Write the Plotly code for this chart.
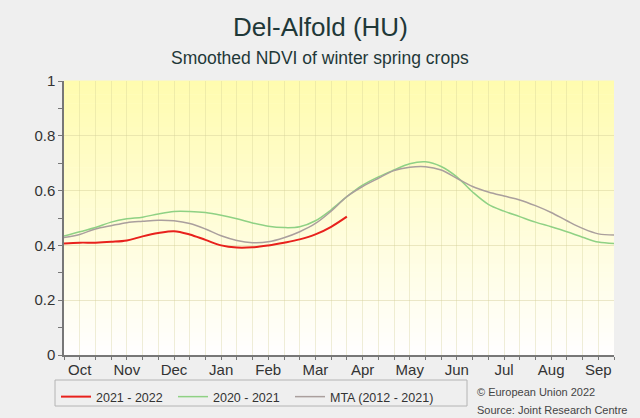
import plotly.graph_objects as go

dekads = list(range(36))
month_labels = ["Oct", "Nov", "Dec", "Jan", "Feb", "Mar", "Apr", "May", "Jun", "Jul", "Aug", "Sep"]
month_pos = [1, 4, 7, 10, 13, 16, 19, 22, 25, 28, 31, 34]
y_ticks = [0, 0.2, 0.4, 0.6, 0.8, 1]
y_ticktext = ["0", "0.2", "0.4", "0.6", "0.8", "1"]

ndvi_2021_2022 = [0.407, 0.41, 0.41, 0.413, 0.418, 0.433, 0.445, 0.452, 0.44, 0.42,
                  0.40, 0.392, 0.393, 0.40, 0.41, 0.422, 0.44, 0.468, 0.505]
ndvi_2020_2021 = [0.434, 0.45, 0.465, 0.485, 0.497, 0.503, 0.515, 0.524, 0.524, 0.52,
                  0.51, 0.497, 0.482, 0.47, 0.465, 0.468, 0.49, 0.53, 0.578, 0.62,
                  0.65, 0.675, 0.698, 0.705, 0.688, 0.65, 0.595, 0.55, 0.525, 0.505,
                  0.485, 0.468, 0.45, 0.43, 0.412, 0.407]
ndvi_mta = [0.429, 0.44, 0.46, 0.472, 0.483, 0.488, 0.492, 0.49, 0.48, 0.46,
            0.435, 0.418, 0.41, 0.413, 0.428, 0.45, 0.48, 0.525, 0.578, 0.615,
            0.645, 0.673, 0.685, 0.687, 0.675, 0.645, 0.615, 0.595, 0.58, 0.566,
            0.545, 0.52, 0.49, 0.462, 0.442, 0.438]

# plot-area geometry (pixels)
L, R, T, B = 64, 614, 81, 355
W, H = 640, 418


def px(xp, yp):
    """pixel position -> paper coordinates"""
    return (xp - L) / (R - L), (B - yp) / (B - T)


fig = go.Figure()
fig.add_trace(go.Scatter(x=dekads[:len(ndvi_2021_2022)], y=ndvi_2021_2022, mode="lines",
                         name="2021 - 2022", legendwidth=72,
                         line=dict(color="#e8211c", width=2, shape="spline")))
fig.add_trace(go.Scatter(x=dekads, y=ndvi_2020_2021, mode="lines",
                         name="2020 - 2021", legendwidth=72,
                         line=dict(color="#8fd184", width=1.5, shape="spline")))
fig.add_trace(go.Scatter(x=dekads, y=ndvi_mta, mode="lines",
                         name="MTA (2012 - 2021)", legendwidth=115,
                         line=dict(color="#aa9f9d", width=1.5, shape="spline")))

# yellow-to-white gradient background of the plot area
shapes = []
n = 60
top = (255, 252, 175)
for k in range(n):
    f = (k + 0.5) / n  # 0 bottom -> 1 top
    r = int(255 + (top[0] - 255) * f)
    g = int(255 + (top[1] - 255) * f)
    b = int(255 + (top[2] - 255) * f)
    shapes.append(dict(type="rect", xref="paper", yref="paper", x0=0, x1=1,
                       y0=k / n, y1=(k + 1) / n + 0.002, line=dict(width=0),
                       fillcolor=f"rgb({r},{g},{b})", layer="below"))

# legend frame
lx0, ly0 = px(55, 380)
lx1, ly1 = px(467, 406)
shapes.append(dict(type="rect", xref="paper", yref="paper", x0=lx0, x1=lx1, y0=ly1, y1=ly0,
                   line=dict(color="#b4b4b4", width=1), fillcolor="rgba(0,0,0,0)", layer="above"))

fig.update_layout(
    width=W, height=H,
    margin=dict(l=L, r=W - R, t=T, b=H - B, autoexpand=False),
    paper_bgcolor="#efefef",
    plot_bgcolor="white",
    shapes=shapes,
    font=dict(family="Liberation Sans, Arial, sans-serif", color="#333333"),
    xaxis=dict(range=[0, 35], tickmode="array", tickvals=month_pos, ticktext=month_labels,
               showgrid=False, zeroline=False, showline=True, linecolor="#777777", linewidth=1.5,
               ticks="", tickfont=dict(size=15, color="#333333"),
               minor=dict(tickmode="array", tickvals=dekads, ticks="outside", ticklen=3,
                          tickcolor="#777777", showgrid=True, gridcolor="rgba(210,205,150,0.35)",
                          gridwidth=1)),
    yaxis=dict(range=[0, 1], tickmode="array", tickvals=y_ticks, ticktext=y_ticktext,
               showgrid=True, gridcolor="rgba(210,205,150,0.45)", zeroline=False,
               showline=True, linecolor="#777777", linewidth=1.5,
               ticks="outside", ticklen=4, tickcolor="#777777",
               tickfont=dict(size=15, color="#333333"),
               minor=dict(dtick=0.1, ticks="outside", ticklen=4, tickcolor="#777777", showgrid=False)),
    legend=dict(orientation="h", x=px(56, 0)[0], y=px(0, 382)[1], xanchor="left", yanchor="top",
                bgcolor="rgba(0,0,0,0)", borderwidth=0,
                font=dict(size=12.5, color="#333333"), itemwidth=30),
    showlegend=True,
)

tx, ty = px(320, 27)
fig.add_annotation(text="Del-Alfold (HU)", x=tx, y=ty, xref="paper", yref="paper",
                   showarrow=False, font=dict(size=26, color="#1f3838"),
                   xanchor="center", yanchor="middle")
sx, sy = px(320, 58)
fig.add_annotation(text="Smoothed NDVI of winter spring crops", x=sx, y=sy, xref="paper", yref="paper",
                   showarrow=False, font=dict(size=17.5, color="#1f3838"),
                   xanchor="center", yanchor="middle")

ax, ay = px(475, 392)
bx, by = px(475, 410)
fig.add_annotation(text="© European Union 2022", x=ax, y=ay, xref="paper", yref="paper",
                   showarrow=False, font=dict(size=11, color="#444444"), xanchor="left", yanchor="middle")
fig.add_annotation(text="Source: Joint Research Centre", x=bx, y=by, xref="paper", yref="paper",
                   showarrow=False, font=dict(size=11, color="#444444"), xanchor="left", yanchor="middle")

fig.write_html("out.html", config={"displayModeBar": False},
               post_script="document.body.style.margin='0';document.body.style.overflow='hidden';")
